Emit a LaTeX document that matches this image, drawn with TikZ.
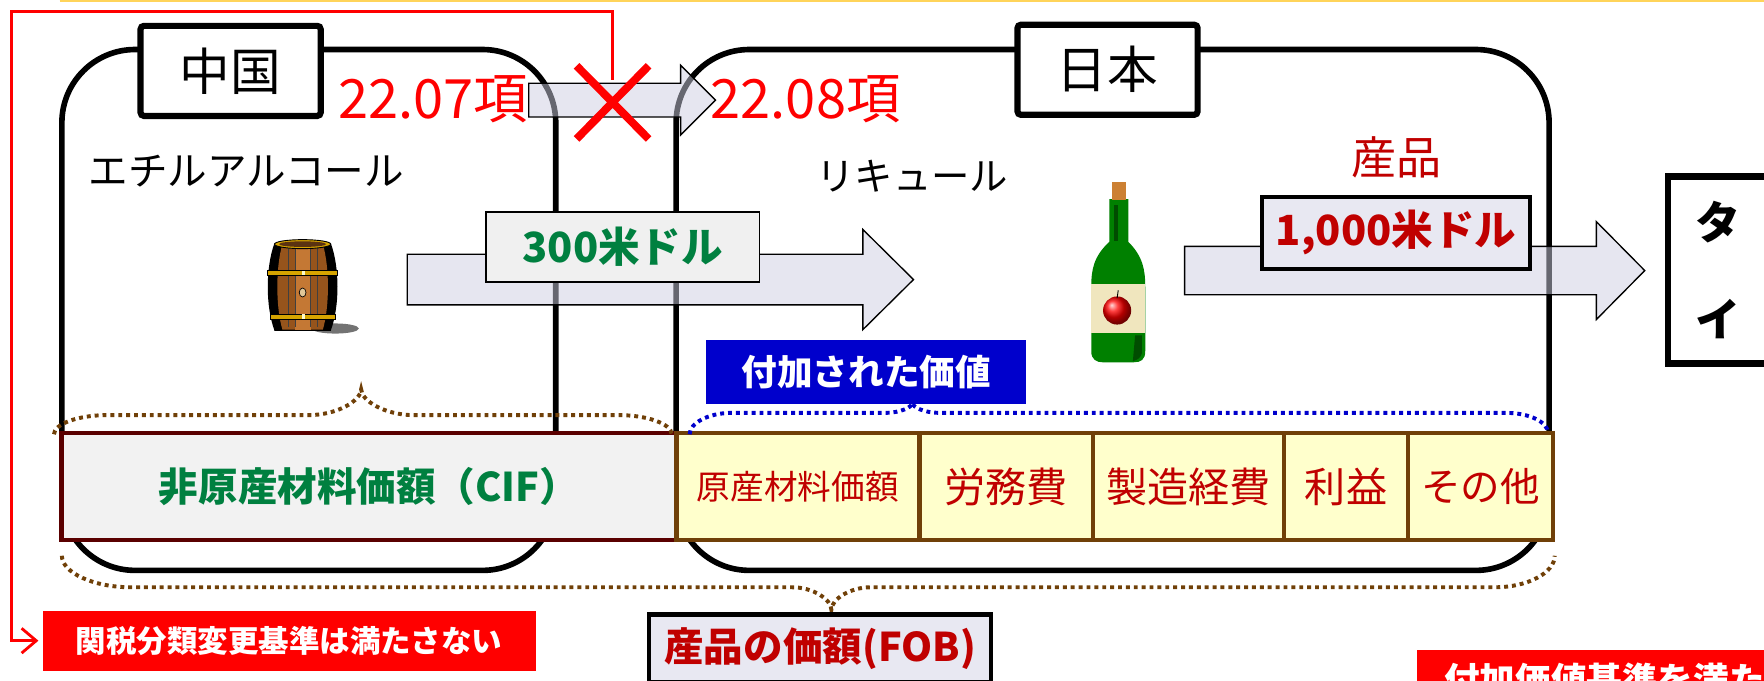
\documentclass[tikz,border=0pt]{standalone}
\usepackage{fontspec}
\setmainfont{Noto Sans CJK JP}
\usetikzlibrary{arrows.meta, positioning, shapes.misc}
\definecolor{darkred}{RGB}{192,0,0}
\definecolor{valgreen}{RGB}{0,128,64}
\definecolor{brownline}{RGB}{112,64,8}
\definecolor{cifline}{RGB}{90,0,0}
\definecolor{cellfill}{RGB}{255,255,204}
\definecolor{arrowfill}{RGB}{205,206,225}
\definecolor{tagfill}{RGB}{232,232,242}
\definecolor{addblue}{RGB}{0,0,204}
\definecolor{topyellow}{RGB}{255,212,90}
\definecolor{barrelbrown}{RGB}{150,84,28}
\definecolor{barrellight}{RGB}{196,120,52}
\definecolor{hoopgold}{RGB}{214,164,0}
\definecolor{bottlegreen}{RGB}{0,128,0}
\definecolor{labelbeige}{RGB}{240,230,190}

\begin{document}
\begin{tikzpicture}[
    x=0.01cm, y=-0.01cm,
    country/.style={draw=black, line width=0.05cm, rounded corners=0.65cm},
    tag/.style={
        rectangle,
        draw=black,
        fill=white,
        line width=0.055cm,
        rounded corners=0.03cm,
        minimum width=1.6cm,
        minimum height=0.8cm,
        font=\fontsize{12.8pt}{15pt}\selectfont
    },
    flow/.style={draw=black, line width=0.012cm, fill=arrowfill, fill opacity=0.5},
    amount/.style={
        rectangle,
        draw=black,
        align=center,
        font=\bfseries\fontsize{10.5pt}{12pt}\selectfont
    },
    cell/.style={
        rectangle,
        draw=brownline,
        fill=cellfill,
        line width=0.04cm,
        minimum height=0.95cm,
        inner xsep=1pt,
        outer sep=0pt,
        text=darkred,
        font=\fontsize{10.4pt}{12pt}\selectfont
    },
    banner/.style={fill=red, text=white, font=\bfseries\fontsize{7.7pt}{9pt}\selectfont},
    dotline/.style={line width=0.035cm, dash pattern=on 0.035cm off 0.035cm},
    txt/.style={inner sep=0pt}
]
\clip (0,0) rectangle (1568,605);

\draw[topyellow, line width=0.015cm] (53,0.8) -- (1568,0.8);

% ========== 国の枠 ==========
\draw[country] (55,44) rectangle (494,507);
\draw[country] (601,44) rectangle (1377,507);

% ========== 樽 ==========
\fill[black!55] (298,292) ellipse [x radius=21, y radius=4.5];
\fill[black] (244,216) .. controls (236,238) and (236,272) .. (244,294) -- (294,294) .. controls (302,272) and (302,238) .. (294,216) -- cycle;
\fill[barrelbrown] (251,217) .. controls (245,238) and (245,272) .. (251,293) -- (287,293) .. controls (293,272) and (293,238) .. (287,217) -- cycle;
\fill[barrellight] (262,217) rectangle (276,293);
\foreach \sx in {256,262,276,282}
    \draw[black!75, line width=0.004cm] (\sx,219) -- (\sx,291);
\foreach \hy/\hl/\hr in {240/238/300, 279/240/298}
    \filldraw[fill=hoopgold, draw=black, line width=0.005cm] (\hl,\hy) rectangle (\hr,\hy+5);
\filldraw[fill=hoopgold, draw=black, line width=0.008cm] (269,217) ellipse [x radius=25, y radius=4];
\fill[barrelbrown!60!black] (269,217) ellipse [x radius=21, y radius=2.5];
\foreach \hy in {242.5, 281.5}
    \fill[white!80!yellow] (268,\hy-2) rectangle (271,\hy+2);
\filldraw[fill=labelbeige!70!brown, draw=black, line width=0.006cm] (269,260) ellipse [x radius=3, y radius=4];

% ========== 瓶 ==========
\fill[bottlegreen] (986,177) -- (986,215) .. controls (972,228) and (970,240) .. (970,255) -- (970,312) .. controls (970,320) and (975,322) .. (980,322) -- (1008,322) .. controls (1014,322) and (1018,320) .. (1018,312) -- (1018,255) .. controls (1018,240) and (1016,228) .. (1003,215) -- (1003,177) -- cycle;
\fill[bottlegreen!60!black] (1009,298) -- (1015,298) -- (1015,314) .. controls (1014,318) and (1011,320) .. (1007,321) -- cycle;
\fill[bottlegreen!60!black] (990,182) rectangle (994,214);
\fill[brown!80!orange] (988,162) rectangle (1001,178);
\fill[labelbeige] (970,252) rectangle (1018,296);
\shade[ball color=red] (993,276) circle [radius=12.5];
\draw[black, line width=0.008cm] (993,265) -- (994,258);

% ========== 矢印 ==========
\draw[flow] (362,226) -- (767,226) -- (767,204) -- (812,248.5) -- (767,293) -- (767,271) -- (362,271) -- cycle;
\draw[flow] (1053,219) -- (1419,219) -- (1419,197) -- (1462,240.5) -- (1419,284) -- (1419,262) -- (1053,262) -- cycle;
\draw[flow] (470,74) -- (605,74) -- (605,58) -- (636,89) -- (605,120) -- (605,104) -- (470,104) -- cycle;

% ========== 国名と品名 ==========
\node[tag] (cn) at (205,63) {中国};
\node[tag] (jp) at (984.5,62) {日本};
\node[tag, rounded corners=0pt, minimum width=0.88cm, minimum height=1.66cm, align=center,
      font=\bfseries\fontsize{11.4pt}{24.5pt}\selectfont] (th) at (1527,240) {タ\\イ};

\node[txt, red, font=\fontsize{13.7pt}{16pt}\selectfont] (hs1) at (385,88) {22.07項};
\node[txt, red, font=\fontsize{13.7pt}{16pt}\selectfont] (hs2) at (716,88) {22.08項};
\node[txt, anchor=west, font=\fontsize{10pt}{12pt}\selectfont] (ethanol) at (78,152) {エチルアルコール};
\node[txt, font=\fontsize{9.7pt}{12pt}\selectfont] (liqueur) at (811,157) {リキュール};

% ========== 金額 ==========
\node[amount, fill=black!6, line width=0.015cm, text=valgreen,
      minimum width=2.43cm, minimum height=0.62cm] (amt1) at (553.5,219.5) {300米ドル};
\node[amount, fill=tagfill, line width=0.04cm, text=darkred,
      minimum width=2.38cm, minimum height=0.64cm] (amt2) at (1241,207) {1,000米ドル};
\node[above=0.02cm of amt2, text=darkred, font=\fontsize{11.4pt}{13pt}\selectfont] (prod) {産品};

% ========== 価額の内訳 ==========
\node[cell, draw=cifline, fill=black!5, text=valgreen, minimum width=5.46cm,
      font=\bfseries\fontsize{10pt}{12pt}\selectfont] (cif) at (328,432.5) {非原産材料価額（CIF）};
\node[cell, minimum width=2.16cm, anchor=west, font=\fontsize{8.5pt}{10pt}\selectfont] (orig) at (cif.east) {原産材料価額};
\node[cell, minimum width=1.54cm, anchor=west] (labor) at (orig.east) {労務費};
\node[cell, minimum width=1.70cm, anchor=west] (overhead) at (labor.east) {製造経費};
\node[cell, minimum width=1.10cm, anchor=west] (profit) at (overhead.east) {利益};
\node[cell, minimum width=1.29cm, anchor=west, font=\fontsize{10pt}{12pt}\selectfont] (other) at (profit.east) {その他};

% 中括弧(点線)
\draw[dotline, brownline] (48,386) .. controls (48,377) and (69,369) .. (95,369) -- (274,369)
    .. controls (300,369) and (321,356) .. (321,346) .. controls (321,356) and (342,369) .. (368,369)
    -- (550,369) .. controls (576,369) and (597,377) .. (597,386);
\draw[dotline, addblue] (613,386) .. controls (613,376) and (630,367) .. (650,367) -- (787,367)
    .. controls (800,367) and (811,362) .. (811,358) .. controls (811,362) and (822,367) .. (835,367)
    -- (1339,367) .. controls (1359,367) and (1376,375) .. (1376,385);
\draw[dotline, brownline] (55,494) .. controls (55,509) and (83,522) .. (116,522) -- (704,522)
    .. controls (723,522) and (739,533) .. (739,542) .. controls (739,533) and (755,522) .. (774,522)
    -- (1329,522) .. controls (1358,522) and (1382,509) .. (1382,494);

\node[fill=addblue, text=white, minimum width=2.84cm, minimum height=0.57cm,
      font=\bfseries\fontsize{9pt}{11pt}\selectfont] (added) at (770,331) {付加された価値};

% ========== 判定 ==========
\node[amount, fill=tagfill, line width=0.04cm, text=darkred, minimum width=3.04cm,
      minimum height=0.59cm, font=\bfseries\fontsize{10pt}{12pt}\selectfont] (fob) at (729,576.5) {産品の価額(FOB)};
\node[banner, minimum width=4.38cm, minimum height=0.53cm] (ng) at (257,569.5) {関税分類変更基準は満たさない};
\node[banner, anchor=north west, minimum height=0.52cm, inner xsep=0.24cm,
      font=\bfseries\fontsize{9pt}{11pt}\selectfont] (ok) at (1259,577) {付加価値基準を満た};

\node[cross out, draw=red, line width=0.07cm, minimum width=0.57cm, minimum height=0.58cm] (cross) at (544.5,91) {};
\coordinate (corner) at (10,10);
\draw[red, line width=0.025cm, -{Straight Barb[length=0.13cm, width=0.22cm]}, shorten <=0.2cm, shorten >=0.03cm]
    (cross.center) |- (corner) |- (ng.west);

\end{tikzpicture}
\end{document}
